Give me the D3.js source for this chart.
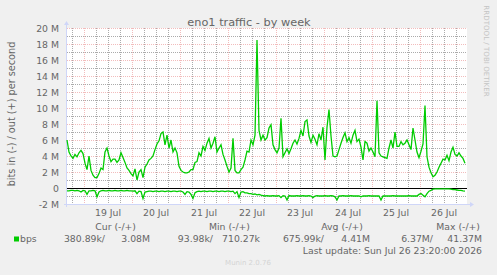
<!DOCTYPE html>
<html>
<head>
<meta charset="utf-8">
<script src="https://cdnjs.cloudflare.com/ajax/libs/d3/7.8.5/d3.min.js"></script>
<style>
	body	{ margin: 0; background: #f0f0f0; }
	svg		{ display: block; font-family: "DejaVu Sans", sans-serif; }
	.lbl	{ fill: #666; font-size: 9.3px; }
	.grid	{ fill: none; stroke-width: 1; stroke-dasharray: 1,1; shape-rendering: crispEdges; }
	.minor	{ stroke: rgba(143,143,143,0.75); }
	.major	{ stroke: rgba(222,79,79,0.38); }
</style>
</head>
<body>
<div id="chart"></div>
<script>
let title		= "eno1 traffic - by week";
let yTitle		= "bits in (-) / out (+) per second";
let firstSample	= "2026-07-18T15:30:00Z";	// hourly samples from here
let dayLabels	= ["19 Jul", "20 Jul", "21 Jul", "22 Jul", "23 Jul", "24 Jul", "25 Jul", "26 Jul"];
let yTicks		= [-2, 0, 2, 4, 6, 8, 10, 12, 14, 16, 18, 20];

// out (+), Mbit/s
let outMbps = [
	6.0, 4.5, 4.0, 3.7, 4.2, 3.9, 4.4, 4.7, 4.3, 3.1,
	2.3, 4.0, 2.2, 1.6, 1.3, 1.3, 1.8, 2.5, 2.3, 4.5,
	5.0, 4.0, 3.3, 3.6, 3.6, 3.2, 3.5, 4.4, 3.8, 3.2,
	2.5, 2.2, 1.8, 1.5, 2.4, 1.0, 2.0, 2.3, 1.3, 2.6,
	3.0, 3.5, 3.7, 4.0, 4.8, 5.5, 5.9, 6.8, 7.0, 5.4,
	6.6, 5.0, 6.0, 4.5, 5.0, 4.4, 2.7, 2.2, 2.0, 1.9,
	1.9, 2.0, 2.3, 2.3, 3.2, 3.3, 4.4, 4.0, 5.2, 4.7,
	5.6, 6.2, 5.0, 5.6, 6.4, 4.5, 5.0, 5.4, 4.2, 3.5,
	2.7, 2.0, 2.5, 6.2, 2.2, 1.9, 1.9, 2.3, 2.6, 3.5,
	4.6, 4.5, 6.0, 5.4, 6.6, 18.5, 7.2, 6.0, 6.6, 6.0,
	6.3, 7.5, 7.9, 5.4, 4.8, 4.4, 5.0, 8.7, 3.9, 4.4,
	4.9, 4.3, 4.9, 5.6, 6.0, 5.5, 6.2, 7.2, 6.5, 8.3,
	8.5, 6.5, 5.7, 6.6, 6.1, 5.4, 6.8, 6.0, 7.6, 3.5,
	7.6, 9.8, 6.5, 4.0, 3.9, 4.0, 4.8, 5.6, 6.3, 6.9,
	5.8, 6.3, 5.6, 6.6, 7.2, 5.8, 6.1, 5.1, 3.5, 5.8,
	5.6, 4.6, 5.0, 4.5, 3.9, 10.9, 4.4, 4.0, 3.9, 3.8,
	3.7, 5.0, 6.0, 5.0, 7.0, 5.2, 5.2, 5.8, 5.4, 5.6,
	6.0, 5.4, 4.8, 7.5, 6.0, 4.5, 3.8, 4.6, 5.5, 10.3,
	3.9, 2.6, 1.9, 1.4, 1.6, 2.0, 2.6, 3.1, 3.6, 3.5,
	4.1, 3.4, 4.5, 5.1, 4.2, 4.0, 4.4, 4.0, 3.7, 3.1
];

// in (-), Mbit/s, drawn below zero
let inMbps = [
	0.35, 0.35, 0.3, 0.3, 0.35, 0.3, 0.35, 0.5, 0.3, 0.35,
	0.8, 0.35, 0.35, 0.3, 0.35, 1.1, 0.5, 0.35, 0.3, 0.35,
	0.35, 0.3, 0.35, 0.35, 0.3, 0.35, 0.35, 0.3, 0.35, 0.35,
	0.3, 0.35, 0.35, 0.4, 0.35, 0.7, 0.4, 0.45, 1.3, 0.5,
	0.45, 0.4, 0.4, 0.45, 0.4, 0.4, 0.45, 0.4, 0.4, 0.45,
	0.4, 0.4, 0.45, 0.4, 0.4, 0.45, 0.4, 0.4, 0.5, 0.8,
	0.45, 0.5, 0.8, 1.3, 0.6, 0.45, 0.4, 0.45, 0.4, 0.4,
	0.45, 0.4, 0.4, 0.45, 0.4, 0.4, 0.45, 0.4, 0.4, 0.45,
	0.4, 0.4, 0.45, 0.4, 0.7, 0.45, 1.2, 0.5, 0.45, 0.6,
	0.6, 0.7, 0.7, 0.8, 0.75, 0.85, 0.8, 0.9, 0.95, 1.0,
	0.95, 1.0, 1.0, 0.95, 1.0, 1.0, 0.95, 1.2, 0.95, 1.0,
	1.5, 0.95, 1.0, 1.0, 1.0, 0.95, 1.0, 1.0, 0.95, 1.0,
	1.0, 0.95, 1.0, 1.2, 1.0, 0.95, 1.0, 1.0, 1.0, 0.95,
	1.0, 1.0, 0.95, 1.0, 1.1, 1.5, 1.0, 1.0, 0.95, 1.0,
	1.0, 1.0, 0.95, 1.0, 1.0, 1.0, 1.0, 1.1, 1.0, 1.0,
	1.0, 0.95, 1.0, 1.0, 1.0, 1.0, 1.0, 1.5, 1.0, 1.0,
	1.0, 1.0, 1.0, 0.95, 1.0, 1.0, 1.0, 1.0, 1.0, 1.0,
	1.0, 0.95, 1.0, 1.0, 1.0, 1.0, 0.8, 0.7, 0.9, 1.1,
	0.7, 0.4, 0.3, 0.15, 0.1, 0.1, 0.1, 0.1, 0.1, 0.12,
	0.12, 0.12, 0.15, 0.2, 0.2, 0.25, 0.3, 0.3, 0.35, 0.38
];

let legendHeads		= ["Cur (-/+)", "Min (-/+)", "Avg (-/+)", "Max (-/+)"];
let legendValues	= ["380.89k/", "3.08M", "93.98k/", "710.27k", "675.99k/", "4.41M", "6.37M/", "41.37M"];
let seriesName		= "bps";
let lastUpdate		= "Last update: Sun Jul 26 23:20:00 2026";
let watermark		= "RRDTOOL / TOBI OETIKER";
let footer			= "Munin 2.0.76";

let green			= "#00cc00";
let plotLeft = 67, plotRight = 467, plotTop = 28, plotBottom = 204;

let t0		= new Date(firstSample);
let times	= outMbps.map((o, i) => d3.utcHour.offset(t0, i));
let x		= d3.scaleUtc().domain([t0, d3.utcHour.offset(t0, 200)]).range([plotLeft, plotRight]);
let y		= d3.scaleLinear().domain([-2, 20]).range([plotBottom, plotTop]);

let svg = d3.select("#chart").append("svg")
	.attr("width", 497)
	.attr("height", 275);

svg.append("rect").attr("width", 497).attr("height", 275).attr("fill", "#f0f0f0");
svg.append("rect")
	.attr("x", plotLeft).attr("y", plotTop)
	.attr("width", plotRight - plotLeft).attr("height", plotBottom - plotTop)
	.attr("fill", "#fff");

// grid
let px = (v) => Math.round(v) + 0.5;
let hours	= x.ticks(d3.utcHour.every(6));
let days	= x.ticks(d3.utcDay.every(1));

svg.append("g").selectAll("line")
	.data(hours.filter((o) => o.getUTCHours() !== 0))
	.enter().append("line")
		.attr("class", "grid minor")
		.attr("x1", (o) => px(x(o))).attr("x2", (o) => px(x(o)))
		.attr("y1", plotTop).attr("y2", plotBottom);

svg.append("g").selectAll("line")
	.data(d3.range(-1, 20, 2))
	.enter().append("line")
		.attr("class", "grid minor")
		.attr("x1", plotLeft).attr("x2", plotRight)
		.attr("y1", (o) => px(y(o))).attr("y2", (o) => px(y(o)));

svg.append("g").selectAll("line")
	.data(days)
	.enter().append("line")
		.attr("class", "grid major")
		.attr("x1", (o) => px(x(o))).attr("x2", (o) => px(x(o)))
		.attr("y1", plotTop).attr("y2", plotBottom);

svg.append("g").selectAll("line")
	.data(yTicks.filter((o) => o > -2))
	.enter().append("line")
		.attr("class", "grid major")
		.attr("x1", plotLeft).attr("x2", plotRight)
		.attr("y1", (o) => px(y(o))).attr("y2", (o) => px(y(o)));

// axes
let axisColor = "#cfd6f8";
svg.append("line")
	.attr("x1", plotLeft - 0.5).attr("x2", plotLeft - 0.5)
	.attr("y1", plotBottom + 3).attr("y2", plotTop - 5)
	.attr("stroke", axisColor);
svg.append("line")
	.attr("x1", plotLeft - 3).attr("x2", plotRight + 4)
	.attr("y1", plotBottom + 0.5).attr("y2", plotBottom + 0.5)
	.attr("stroke", axisColor);
svg.append("path")
	.attr("d", `M${plotLeft - 3},${plotTop - 3}L${plotLeft - 0.5},${plotTop - 7}L${plotLeft + 2},${plotTop - 3}Z`)
	.attr("fill", axisColor);
svg.append("path")
	.attr("d", `M${plotRight + 3},${plotBottom - 2}L${plotRight + 7},${plotBottom + 0.5}L${plotRight + 3},${plotBottom + 3}Z`)
	.attr("fill", axisColor);

// y labels
svg.append("g").selectAll("text")
	.data(yTicks)
	.enter().append("text")
		.attr("class", "lbl")
		.attr("x", plotLeft - 8)
		.attr("y", (o) => y(o) + 3.5)
		.attr("text-anchor", "end")
		.text((o) => (o === 0 ? "0" : o + " M"));

// x labels at noon
svg.append("g").selectAll("text")
	.data(days)
	.enter().append("text")
		.attr("class", "lbl")
		.attr("x", (o) => x(d3.utcHour.offset(o, 12)))
		.attr("y", 216)
		.attr("text-anchor", "middle")
		.text((o, i) => dayLabels[i]);

// zero rule
svg.append("line")
	.attr("x1", plotLeft).attr("x2", plotRight)
	.attr("y1", px(y(0))).attr("y2", px(y(0)))
	.attr("stroke", "#000")
	.attr("shape-rendering", "crispEdges");

let line = d3.line()
	.x((o, i) => x(times[i]))
	.y((o) => y(o));

svg.append("path")
	.datum(inMbps.map((o) => -o))
	.attr("d", line)
	.attr("fill", "none")
	.attr("stroke", green)
	.attr("stroke-width", 1.3);

svg.append("path")
	.datum(outMbps)
	.attr("d", line)
	.attr("fill", "none")
	.attr("stroke", green)
	.attr("stroke-width", 1.3);

// titles
svg.append("text")
	.attr("x", 249).attr("y", 25.5)
	.attr("text-anchor", "middle")
	.attr("fill", "#666")
	.style("font-size", "11.3px")
	.text(title);

svg.append("text")
	.attr("class", "lbl")
	.attr("transform", "translate(14.5,114) rotate(-90)")
	.attr("text-anchor", "middle")
	.style("font-size", "9.7px")
	.text(yTitle);

svg.append("text")
	.attr("transform", "translate(484,51) rotate(90)")
	.attr("text-anchor", "middle")
	.attr("fill", "#c4c4c4")
	.style("font-size", "7.1px")
	.text(watermark);

// legend
let headRight	= [136, 250, 363, 480];
let valueRight	= [105, 150, 213, 260, 324, 370, 433, 482];

svg.append("g").selectAll("text")
	.data(legendHeads)
	.enter().append("text")
		.attr("class", "lbl")
		.attr("x", (o, i) => headRight[i])
		.attr("y", 230)
		.attr("text-anchor", "end")
		.text((o) => o);

svg.append("rect")
	.attr("x", 14).attr("y", 236.5)
	.attr("width", 5).attr("height", 5)
	.attr("fill", green);

svg.append("text")
	.attr("class", "lbl")
	.attr("x", 20).attr("y", 242)
	.text(seriesName);

svg.append("g").selectAll("text")
	.data(legendValues)
	.enter().append("text")
		.attr("class", "lbl")
		.attr("x", (o, i) => valueRight[i])
		.attr("y", 242)
		.attr("text-anchor", "end")
		.text((o) => o);

svg.append("text")
	.attr("class", "lbl")
	.attr("x", 482).attr("y", 254)
	.attr("text-anchor", "end")
	.text(lastUpdate);

svg.append("text")
	.attr("x", 248).attr("y", 265)
	.attr("text-anchor", "middle")
	.attr("fill", "#d4d4d4")
	.style("font-size", "7px")
	.text(footer);
</script>
</body>
</html>
